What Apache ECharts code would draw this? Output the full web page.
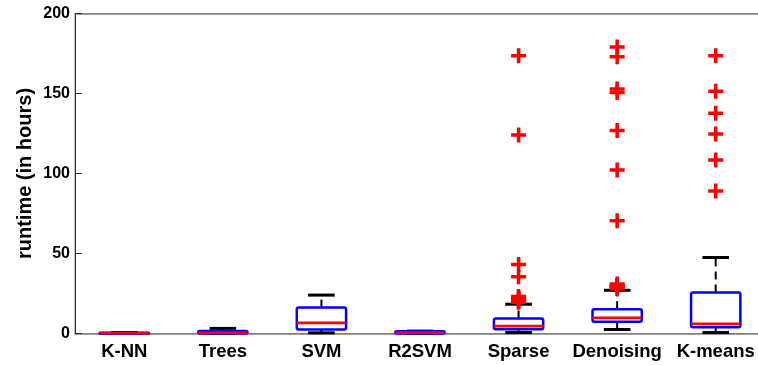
<!DOCTYPE html>
<html>
<head>
    <meta charset="utf-8">
    <script type="text/javascript" src="https://cdn.jsdelivr.net/npm/echarts@6/dist/echarts.min.js"></script>
    <title>runtime boxplot</title>
</head>
<body style="margin:0;background:#fff;">
    <div id="container" style="width:758px;height:365px;"></div>
    <script type="text/javascript">
    // methods on the x axis
    var categories = ['K-NN', 'Trees', 'SVM', 'R2SVM', 'Sparse', 'Denoising', 'K-means'];
    // box statistics (hours)
    var whiskerLow  = [0,   0,   0.4,  0,   0.6, 2.5,  0.6];
    var q1          = [0,   0,   2.5,  0,   2.7, 7.3,  3.9];
    var median      = [0.2, 0.4, 6.6,  0.5, 4.6, 9.8,  6.0];
    var q3          = [0.4, 1.5, 16.2, 1.4, 9.4, 15.2, 25.6];
    var whiskerHigh = [0.6, 3.2, 24,   1.5, 18.3, 27,  47.5];
    // outliers per method
    var outliers = [
        [],
        [],
        [],
        [],
        [19.5, 20.3, 21, 21.7, 22.4, 23.2, 35.4, 43.1, 124, 173.6],
        [28, 28.8, 29.5, 30.3, 31, 70.5, 102.2, 126.8, 150.7, 152.8, 173, 179],
        [89.1, 108.4, 124.7, 137.6, 151.4, 173.6]
    ];
    var yTicks = { min: 0, max: 200, interval: 50 };

    var boxData = categories.map(function (c, i) {
        return [i, whiskerLow[i], q1[i], median[i], q3[i], whiskerHigh[i]];
    });
    var outlierData = [];
    outliers.forEach(function (list, i) {
        list.forEach(function (v) { outlierData.push([i, v]); });
    });

    var myChart = echarts.init(document.getElementById('container'));

    function renderBox(params, api) {
        var x = api.value(0);
        var pLow = api.coord([x, api.value(1)]);
        var pQ1 = api.coord([x, api.value(2)]);
        var pMed = api.coord([x, api.value(3)]);
        var pQ3 = api.coord([x, api.value(4)]);
        var pHigh = api.coord([x, api.value(5)]);
        var band = api.size([1, 0])[0];
        var bw = band * 0.5;
        var cw = band * 0.27;
        var cx = pMed[0];
        var children = [];
        // whiskers (dashed)
        if (pQ3[1] - pHigh[1] > 1) {
            children.push({ type: 'line', shape: { x1: cx, y1: pQ3[1], x2: cx, y2: pHigh[1] },
                style: { stroke: '#000', lineWidth: 2, lineDash: [8, 5] } });
        }
        if (pLow[1] - pQ1[1] > 1) {
            children.push({ type: 'line', shape: { x1: cx, y1: pQ1[1], x2: cx, y2: pLow[1] },
                style: { stroke: '#000', lineWidth: 2, lineDash: [8, 5] } });
        }
        // caps
        children.push({ type: 'line', shape: { x1: cx - cw / 2, y1: pHigh[1], x2: cx + cw / 2, y2: pHigh[1] },
            style: { stroke: '#000', lineWidth: 3 } });
        children.push({ type: 'line', shape: { x1: cx - cw / 2, y1: pLow[1], x2: cx + cw / 2, y2: pLow[1] },
            style: { stroke: '#000', lineWidth: 3 } });
        // box
        children.push({ type: 'rect', shape: { x: cx - bw / 2, y: pQ3[1], width: bw, height: Math.max(pQ1[1] - pQ3[1], 1), r: 2 },
            style: { fill: '#fff', stroke: '#0000ff', lineWidth: 2.5 } });
        // median
        children.push({ type: 'line', shape: { x1: cx - bw / 2, y1: pMed[1], x2: cx + bw / 2, y2: pMed[1] },
            style: { stroke: '#ff0000', lineWidth: 2.8 } });
        return { type: 'group', children: children };
    }

    var option = {
        animation: false,
        backgroundColor: '#fff',
        grid: {
            left: 75,
            top: 13.5,
            width: 690,
            height: 320,
            outerBoundsMode: 'none',
            containLabel: false,
            show: true,
            borderColor: '#808080',
            borderWidth: 1
        },
        xAxis: [{
            type: 'category',
            data: categories,
            boundaryGap: true,
            axisLine: { lineStyle: { color: '#808080', width: 1.5 } },
            axisTick: { inside: true, length: 7, alignWithLabel: true, lineStyle: { color: '#333' } },
            axisLabel: {
                interval: 0,
                color: '#000', fontSize: 18.5, fontWeight: 'bold',
                fontFamily: 'Liberation Sans, Arial, sans-serif', margin: 9
            }
        }, {
            type: 'category',
            data: categories,
            position: 'top',
            boundaryGap: true,
            axisLine: { lineStyle: { color: '#808080', width: 1.5 } },
            axisTick: { inside: true, length: 7, alignWithLabel: true, lineStyle: { color: '#333' } },
            axisLabel: { show: false }
        }],
        yAxis: {
            type: 'value',
            min: yTicks.min,
            max: yTicks.max,
            interval: yTicks.interval,
            name: 'runtime (in hours)',
            nameLocation: 'middle',
            nameGap: 40,
            nameMoveOverlap: false,
            nameTextStyle: {
                color: '#000', fontSize: 20, fontWeight: 'bold',
                fontFamily: 'Liberation Sans, Arial, sans-serif'
            },
            axisLine: { show: true, lineStyle: { color: '#303030', width: 1 } },
            axisTick: { show: true, inside: true, length: 7, lineStyle: { color: '#303030' } },
            splitLine: { show: false },
            axisLabel: {
                color: '#000', fontSize: 16, fontWeight: 'bold',
                fontFamily: 'Liberation Sans, Arial, sans-serif', margin: 5
            }
        },
        series: [{
            type: 'custom',
            renderItem: renderBox,
            data: boxData,
            encode: { x: 0, y: [1, 2, 3, 4, 5] },
            z: 2
        }, {
            type: 'scatter',
            data: outlierData,
            symbol: 'path://M5.75,0h3.5v5.75h5.75v3.5h-5.75v5.75h-3.5v-5.75h-5.75v-3.5h5.75z',
            symbolSize: 15,
            itemStyle: { color: '#ff0000', opacity: 1 },
            z: 3
        }]
    };

    myChart.setOption(option);
    </script>
</body>
</html>
